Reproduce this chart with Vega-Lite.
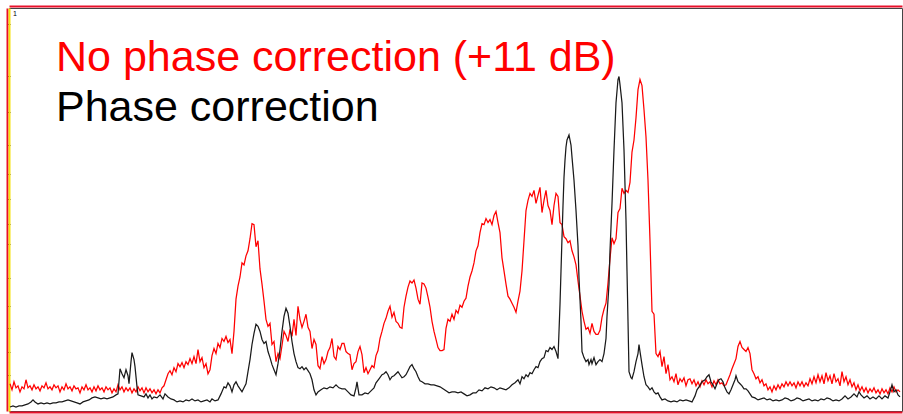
{
  "$schema": "https://vega.github.io/schema/vega-lite/v6.json",
  "width": 903,
  "height": 414,
  "autosize": {"type": "fit", "contains": "padding"},
  "padding": {"left": 6, "top": 6, "right": 0, "bottom": 2},
  "background": "white",
  "config": {
    "view": {"stroke": "#444444", "strokeWidth": 1},
    "axis": {"grid": false, "labels": false, "title": null}
  },
  "datasets": {
    "red": [
      {"x":11,"v":27},{"x":13,"v":21},{"x":15,"v":29},{"x":17,"v":23},{"x":19,"v":25},{"x":21,"v":19},{"x":23,"v":24},{"x":25,"v":22},{"x":27,"v":31},{"x":29,"v":23},
      {"x":31,"v":25},{"x":33,"v":21},{"x":35,"v":26},{"x":37,"v":22},{"x":39,"v":24},{"x":41,"v":20},{"x":43,"v":25},{"x":45,"v":23},{"x":47,"v":28},{"x":49,"v":22},
      {"x":51,"v":24},{"x":53,"v":21},{"x":55,"v":26},{"x":57,"v":23},{"x":59,"v":25},{"x":61,"v":19},{"x":63,"v":24},{"x":65,"v":21},{"x":67,"v":27},{"x":69,"v":22},
      {"x":71,"v":24},{"x":73,"v":20},{"x":75,"v":25},{"x":77,"v":22},{"x":79,"v":23},{"x":81,"v":18},{"x":83,"v":24},{"x":85,"v":21},{"x":87,"v":26},{"x":89,"v":21},
      {"x":91,"v":23},{"x":93,"v":19},{"x":95,"v":24},{"x":97,"v":20},{"x":99,"v":25},{"x":101,"v":21},{"x":103,"v":23},{"x":105,"v":19},{"x":107,"v":24},{"x":109,"v":21},
      {"x":111,"v":23},{"x":113,"v":18},{"x":115,"v":22},{"x":117,"v":19},{"x":119,"v":26},{"x":121,"v":21},{"x":123,"v":24},{"x":125,"v":19},{"x":127,"v":23},{"x":129,"v":20},
      {"x":131,"v":23},{"x":133,"v":18},{"x":135,"v":22},{"x":137,"v":19},{"x":139,"v":24},{"x":141,"v":20},{"x":143,"v":23},{"x":145,"v":18},{"x":147,"v":23},{"x":149,"v":19},
      {"x":151,"v":22},{"x":153,"v":18},{"x":155,"v":21},{"x":157,"v":17},{"x":159,"v":21},{"x":161,"v":18},{"x":163,"v":23},{"x":165,"v":25},{"x":167,"v":31},{"x":169,"v":37},
      {"x":171,"v":40},{"x":173,"v":36},{"x":175,"v":43},{"x":177,"v":39},{"x":179,"v":47},{"x":181,"v":44},{"x":183,"v":48},{"x":185,"v":43},{"x":187,"v":49},{"x":189,"v":46},
      {"x":191,"v":52},{"x":193,"v":47},{"x":195,"v":54},{"x":197,"v":47},{"x":199,"v":61},{"x":201,"v":49},{"x":203,"v":53},{"x":205,"v":43},{"x":207,"v":47},{"x":209,"v":37},
      {"x":211,"v":41},{"x":213,"v":55},{"x":215,"v":62},{"x":217,"v":57},{"x":219,"v":67},{"x":221,"v":63},{"x":223,"v":72},{"x":225,"v":69},{"x":227,"v":74},{"x":229,"v":68},
      {"x":231,"v":71},{"x":233,"v":57},{"x":235,"v":79},{"x":237,"v":111},{"x":239,"v":124},{"x":241,"v":133},{"x":243,"v":147},{"x":245,"v":145},{"x":247,"v":154},{"x":249,"v":159},
      {"x":251,"v":171},{"x":253,"v":186},{"x":255,"v":185},{"x":257,"v":163},{"x":259,"v":169},{"x":261,"v":141},{"x":263,"v":126},{"x":265,"v":109},{"x":267,"v":91},{"x":269,"v":84},
      {"x":271,"v":87},{"x":273,"v":66},{"x":275,"v":69},{"x":277,"v":49},{"x":279,"v":57},{"x":281,"v":52},{"x":283,"v":65},{"x":285,"v":79},{"x":287,"v":75},{"x":289,"v":69},
      {"x":291,"v":81},{"x":293,"v":74},{"x":295,"v":91},{"x":297,"v":75},{"x":299,"v":104},{"x":301,"v":91},{"x":303,"v":83},{"x":305,"v":89},{"x":307,"v":96},{"x":309,"v":83},
      {"x":311,"v":79},{"x":313,"v":62},{"x":315,"v":71},{"x":317,"v":66},{"x":319,"v":45},{"x":321,"v":42},{"x":323,"v":54},{"x":325,"v":47},{"x":327,"v":51},{"x":329,"v":59},
      {"x":331,"v":63},{"x":333,"v":72},{"x":335,"v":54},{"x":337,"v":51},{"x":339,"v":64},{"x":341,"v":61},{"x":343,"v":67},{"x":345,"v":67},{"x":347,"v":59},{"x":349,"v":57},
      {"x":351,"v":56},{"x":353,"v":41},{"x":355,"v":47},{"x":357,"v":49},{"x":359,"v":59},{"x":361,"v":64},{"x":363,"v":56},{"x":365,"v":38},{"x":367,"v":43},{"x":369,"v":37},
      {"x":371,"v":41},{"x":373,"v":45},{"x":375,"v":43},{"x":377,"v":55},{"x":379,"v":60},{"x":381,"v":72},{"x":383,"v":79},{"x":385,"v":87},{"x":387,"v":92},{"x":389,"v":99},
      {"x":391,"v":104},{"x":393,"v":93},{"x":395,"v":98},{"x":397,"v":89},{"x":399,"v":87},{"x":401,"v":83},{"x":403,"v":82},{"x":405,"v":103},{"x":407,"v":114},{"x":409,"v":123},
      {"x":411,"v":129},{"x":413,"v":127},{"x":415,"v":130},{"x":417,"v":122},{"x":419,"v":111},{"x":421,"v":106},{"x":423,"v":127},{"x":425,"v":126},{"x":427,"v":122},{"x":429,"v":113},
      {"x":431,"v":103},{"x":433,"v":89},{"x":435,"v":79},{"x":437,"v":71},{"x":439,"v":63},{"x":441,"v":60},{"x":443,"v":60},{"x":445,"v":61},{"x":447,"v":82},{"x":449,"v":91},
      {"x":451,"v":89},{"x":453,"v":96},{"x":455,"v":91},{"x":457,"v":100},{"x":459,"v":97},{"x":461,"v":105},{"x":463,"v":103},{"x":465,"v":109},{"x":467,"v":112},{"x":469,"v":124},
      {"x":471,"v":133},{"x":473,"v":139},{"x":475,"v":147},{"x":477,"v":159},{"x":479,"v":164},{"x":481,"v":177},{"x":483,"v":186},{"x":485,"v":185},{"x":487,"v":191},{"x":489,"v":187},
      {"x":491,"v":190},{"x":493,"v":185},{"x":495,"v":194},{"x":497,"v":198},{"x":499,"v":187},{"x":501,"v":177},{"x":503,"v":152},{"x":505,"v":139},{"x":507,"v":126},{"x":509,"v":114},
      {"x":511,"v":111},{"x":513,"v":107},{"x":515,"v":103},{"x":517,"v":98},{"x":519,"v":109},{"x":521,"v":119},{"x":523,"v":139},{"x":525,"v":169},{"x":527,"v":199},{"x":529,"v":209},
      {"x":531,"v":216},{"x":533,"v":213},{"x":535,"v":219},{"x":537,"v":206},{"x":539,"v":214},{"x":541,"v":222},{"x":543,"v":197},{"x":545,"v":209},{"x":547,"v":219},{"x":549,"v":204},
      {"x":551,"v":199},{"x":553,"v":185},{"x":555,"v":204},{"x":557,"v":216},{"x":559,"v":213},{"x":561,"v":187},{"x":563,"v":185},{"x":565,"v":173},{"x":567,"v":171},{"x":569,"v":167},
      {"x":571,"v":169},{"x":573,"v":159},{"x":575,"v":153},{"x":577,"v":145},{"x":579,"v":129},{"x":581,"v":114},{"x":583,"v":99},{"x":585,"v":89},{"x":587,"v":81},{"x":589,"v":83},
      {"x":591,"v":77},{"x":593,"v":87},{"x":595,"v":79},{"x":597,"v":76},{"x":599,"v":76},{"x":601,"v":80},{"x":603,"v":93},{"x":605,"v":101},{"x":607,"v":107},{"x":609,"v":127},
      {"x":611,"v":151},{"x":613,"v":172},{"x":615,"v":166},{"x":617,"v":171},{"x":619,"v":197},{"x":621,"v":201},{"x":623,"v":221},{"x":625,"v":216},{"x":627,"v":219},{"x":629,"v":217},
      {"x":631,"v":227},{"x":633,"v":257},{"x":635,"v":269},{"x":637,"v":291},{"x":639,"v":319},{"x":641,"v":329},{"x":643,"v":323},{"x":645,"v":299},{"x":647,"v":272},{"x":649,"v":229},
      {"x":651,"v":169},{"x":653,"v":99},{"x":655,"v":96},{"x":657,"v":57},{"x":659,"v":54},{"x":661,"v":59},{"x":663,"v":44},{"x":665,"v":54},{"x":667,"v":37},{"x":669,"v":46},
      {"x":671,"v":31},{"x":673,"v":34},{"x":675,"v":29},{"x":677,"v":37},{"x":679,"v":26},{"x":681,"v":32},{"x":683,"v":29},{"x":685,"v":33},{"x":687,"v":25},{"x":689,"v":31},
      {"x":691,"v":32},{"x":693,"v":27},{"x":695,"v":31},{"x":697,"v":25},{"x":699,"v":29},{"x":701,"v":24},{"x":703,"v":30},{"x":705,"v":26},{"x":707,"v":31},{"x":709,"v":27},
      {"x":711,"v":29},{"x":713,"v":24},{"x":715,"v":30},{"x":717,"v":26},{"x":719,"v":31},{"x":721,"v":27},{"x":723,"v":28},{"x":725,"v":25},{"x":727,"v":26},{"x":729,"v":31},
      {"x":731,"v":36},{"x":733,"v":42},{"x":735,"v":47},{"x":737,"v":52},{"x":739,"v":64},{"x":741,"v":69},{"x":743,"v":63},{"x":745,"v":61},{"x":747,"v":59},{"x":749,"v":63},
      {"x":751,"v":57},{"x":753,"v":41},{"x":755,"v":37},{"x":757,"v":32},{"x":759,"v":34},{"x":761,"v":28},{"x":763,"v":31},{"x":765,"v":25},{"x":767,"v":27},{"x":769,"v":21},
      {"x":771,"v":24},{"x":773,"v":19},{"x":775,"v":25},{"x":777,"v":21},{"x":779,"v":26},{"x":781,"v":22},{"x":783,"v":27},{"x":785,"v":24},{"x":787,"v":29},{"x":789,"v":25},
      {"x":791,"v":29},{"x":793,"v":25},{"x":795,"v":28},{"x":797,"v":23},{"x":799,"v":29},{"x":801,"v":25},{"x":803,"v":29},{"x":805,"v":24},{"x":807,"v":28},{"x":809,"v":25},
      {"x":811,"v":32},{"x":813,"v":27},{"x":815,"v":34},{"x":817,"v":28},{"x":819,"v":36},{"x":821,"v":29},{"x":823,"v":35},{"x":825,"v":27},{"x":827,"v":38},{"x":829,"v":30},
      {"x":831,"v":35},{"x":833,"v":27},{"x":835,"v":37},{"x":837,"v":29},{"x":839,"v":32},{"x":841,"v":25},{"x":843,"v":39},{"x":845,"v":29},{"x":847,"v":34},{"x":849,"v":26},
      {"x":851,"v":31},{"x":853,"v":24},{"x":855,"v":28},{"x":857,"v":21},{"x":859,"v":26},{"x":861,"v":20},{"x":863,"v":24},{"x":865,"v":19},{"x":867,"v":23},{"x":869,"v":18},
      {"x":871,"v":22},{"x":873,"v":19},{"x":875,"v":23},{"x":877,"v":18},{"x":879,"v":21},{"x":881,"v":17},{"x":883,"v":22},{"x":885,"v":18},{"x":887,"v":21},{"x":889,"v":17},
      {"x":891,"v":23},{"x":893,"v":19},{"x":895,"v":24},{"x":897,"v":19},{"x":899,"v":21},{"x":901,"v":19}
    ],
    "black": [
      {"x":11,"v":4},{"x":14,"v":5},{"x":17,"v":4},{"x":20,"v":5},{"x":23,"v":5},{"x":26,"v":6},{"x":29,"v":7},{"x":32,"v":9},{"x":34,"v":11},{"x":36,"v":9},
      {"x":39,"v":7},{"x":42,"v":8},{"x":45,"v":7},{"x":48,"v":8},{"x":51,"v":7},{"x":54,"v":8},{"x":57,"v":8},{"x":60,"v":9},{"x":63,"v":9},{"x":66,"v":10},
      {"x":69,"v":11},{"x":72,"v":10},{"x":75,"v":9},{"x":78,"v":8},{"x":81,"v":7},{"x":84,"v":9},{"x":87,"v":10},{"x":90,"v":11},{"x":93,"v":13},{"x":96,"v":14},
      {"x":99,"v":13},{"x":102,"v":12},{"x":105,"v":13},{"x":108,"v":12},{"x":111,"v":13},{"x":114,"v":14},{"x":117,"v":16},{"x":119,"v":17},{"x":121,"v":42},{"x":123,"v":37},
      {"x":125,"v":33},{"x":127,"v":41},{"x":129,"v":35},{"x":130,"v":27},{"x":132,"v":49},{"x":133,"v":58},{"x":135,"v":51},{"x":136,"v":44},{"x":138,"v":24},{"x":139,"v":16},
      {"x":142,"v":15},{"x":145,"v":14},{"x":147,"v":17},{"x":149,"v":13},{"x":151,"v":16},{"x":153,"v":12},{"x":155,"v":14},{"x":158,"v":13},{"x":161,"v":16},{"x":164,"v":12},
      {"x":166,"v":17},{"x":169,"v":14},{"x":172,"v":12},{"x":175,"v":11},{"x":178,"v":9},{"x":181,"v":10},{"x":184,"v":9},{"x":187,"v":11},{"x":190,"v":10},{"x":193,"v":12},
      {"x":196,"v":10},{"x":199,"v":11},{"x":202,"v":9},{"x":205,"v":10},{"x":208,"v":11},{"x":211,"v":9},{"x":213,"v":12},{"x":216,"v":10},{"x":219,"v":11},{"x":222,"v":17},
      {"x":225,"v":24},{"x":227,"v":23},{"x":229,"v":28},{"x":231,"v":25},{"x":233,"v":19},{"x":235,"v":26},{"x":237,"v":29},{"x":239,"v":25},{"x":241,"v":22},{"x":243,"v":19},
      {"x":245,"v":23},{"x":247,"v":27},{"x":249,"v":39},{"x":251,"v":51},{"x":253,"v":66},{"x":255,"v":77},{"x":257,"v":86},{"x":259,"v":84},{"x":261,"v":79},{"x":263,"v":71},
      {"x":265,"v":67},{"x":267,"v":69},{"x":269,"v":59},{"x":271,"v":53},{"x":273,"v":46},{"x":275,"v":41},{"x":277,"v":36},{"x":279,"v":47},{"x":281,"v":61},{"x":283,"v":79},
      {"x":285,"v":94},{"x":287,"v":102},{"x":289,"v":97},{"x":291,"v":84},{"x":293,"v":69},{"x":295,"v":57},{"x":297,"v":49},{"x":299,"v":43},{"x":301,"v":42},{"x":303,"v":44},
      {"x":305,"v":41},{"x":307,"v":43},{"x":309,"v":40},{"x":311,"v":37},{"x":313,"v":31},{"x":315,"v":21},{"x":317,"v":16},{"x":319,"v":19},{"x":322,"v":21},{"x":325,"v":23},
      {"x":328,"v":22},{"x":331,"v":24},{"x":334,"v":23},{"x":337,"v":26},{"x":340,"v":23},{"x":343,"v":22},{"x":346,"v":22},{"x":349,"v":19},{"x":352,"v":16},{"x":355,"v":15},
      {"x":357,"v":23},{"x":358,"v":29},{"x":360,"v":16},{"x":363,"v":16},{"x":366,"v":18},{"x":369,"v":17},{"x":372,"v":20},{"x":375,"v":23},{"x":377,"v":28},{"x":380,"v":32},
      {"x":383,"v":36},{"x":385,"v":37},{"x":387,"v":39},{"x":389,"v":36},{"x":391,"v":31},{"x":393,"v":34},{"x":395,"v":35},{"x":397,"v":37},{"x":399,"v":39},{"x":401,"v":36},
      {"x":403,"v":33},{"x":405,"v":34},{"x":407,"v":36},{"x":409,"v":40},{"x":411,"v":44},{"x":413,"v":46},{"x":415,"v":42},{"x":417,"v":39},{"x":419,"v":34},{"x":421,"v":30},
      {"x":423,"v":29},{"x":426,"v":27},{"x":429,"v":27},{"x":432,"v":26},{"x":435,"v":26},{"x":438,"v":25},{"x":441,"v":24},{"x":444,"v":22},{"x":447,"v":20},{"x":450,"v":18},
      {"x":453,"v":19},{"x":456,"v":19},{"x":459,"v":18},{"x":462,"v":19},{"x":465,"v":17},{"x":468,"v":15},{"x":471,"v":16},{"x":474,"v":18},{"x":477,"v":18},{"x":480,"v":21},
      {"x":483,"v":20},{"x":486,"v":23},{"x":489,"v":22},{"x":492,"v":24},{"x":495,"v":23},{"x":498,"v":21},{"x":501,"v":23},{"x":504,"v":22},{"x":507,"v":21},{"x":510,"v":23},
      {"x":513,"v":26},{"x":516,"v":28},{"x":519,"v":31},{"x":521,"v":27},{"x":523,"v":34},{"x":525,"v":32},{"x":527,"v":36},{"x":529,"v":34},{"x":531,"v":38},{"x":533,"v":37},
      {"x":535,"v":41},{"x":537,"v":44},{"x":539,"v":43},{"x":541,"v":49},{"x":543,"v":52},{"x":545,"v":53},{"x":547,"v":60},{"x":549,"v":59},{"x":551,"v":63},{"x":553,"v":61},
      {"x":555,"v":64},{"x":557,"v":59},{"x":559,"v":52},{"x":560,"v":79},{"x":561,"v":106},{"x":562,"v":139},{"x":563,"v":172},{"x":564,"v":204},{"x":565,"v":232},{"x":566,"v":249},
      {"x":567,"v":262},{"x":568,"v":269},{"x":570,"v":274},{"x":572,"v":264},{"x":573,"v":252},{"x":575,"v":229},{"x":577,"v":199},{"x":579,"v":164},{"x":580,"v":132},{"x":582,"v":89},
      {"x":583,"v":59},{"x":585,"v":53},{"x":587,"v":49},{"x":589,"v":51},{"x":590,"v":46},{"x":592,"v":51},{"x":593,"v":47},{"x":595,"v":53},{"x":597,"v":46},{"x":599,"v":49},
      {"x":601,"v":51},{"x":603,"v":49},{"x":605,"v":57},{"x":607,"v":72},{"x":608,"v":94},{"x":610,"v":126},{"x":611,"v":159},{"x":613,"v":206},{"x":615,"v":259},{"x":617,"v":306},
      {"x":619,"v":329},{"x":620,"v":332},{"x":621,"v":324},{"x":623,"v":306},{"x":625,"v":259},{"x":627,"v":189},{"x":628,"v":139},{"x":629,"v":89},{"x":630,"v":39},{"x":632,"v":33},
      {"x":633,"v":32},{"x":635,"v":39},{"x":637,"v":49},{"x":639,"v":57},{"x":640,"v":66},{"x":641,"v":59},{"x":643,"v":46},{"x":645,"v":34},{"x":647,"v":26},{"x":649,"v":24},
      {"x":651,"v":21},{"x":653,"v":23},{"x":655,"v":19},{"x":657,"v":17},{"x":659,"v":18},{"x":661,"v":14},{"x":663,"v":11},{"x":666,"v":12},{"x":669,"v":10},{"x":672,"v":9},
      {"x":675,"v":10},{"x":678,"v":9},{"x":681,"v":11},{"x":684,"v":10},{"x":687,"v":11},{"x":690,"v":10},{"x":693,"v":9},{"x":696,"v":15},{"x":698,"v":21},{"x":700,"v":24},
      {"x":703,"v":29},{"x":706,"v":31},{"x":708,"v":34},{"x":710,"v":36},{"x":712,"v":29},{"x":714,"v":26},{"x":716,"v":22},{"x":718,"v":27},{"x":720,"v":31},{"x":722,"v":32},
      {"x":724,"v":29},{"x":726,"v":23},{"x":728,"v":19},{"x":730,"v":17},{"x":732,"v":21},{"x":734,"v":26},{"x":736,"v":31},{"x":737,"v":35},{"x":739,"v":29},{"x":741,"v":27},
      {"x":743,"v":25},{"x":745,"v":22},{"x":747,"v":22},{"x":749,"v":20},{"x":751,"v":17},{"x":753,"v":14},{"x":756,"v":13},{"x":759,"v":11},{"x":762,"v":12},{"x":765,"v":13},
      {"x":768,"v":11},{"x":771,"v":12},{"x":774,"v":10},{"x":777,"v":11},{"x":780,"v":10},{"x":783,"v":11},{"x":786,"v":13},{"x":789,"v":12},{"x":792,"v":10},{"x":795,"v":11},
      {"x":798,"v":13},{"x":801,"v":12},{"x":804,"v":10},{"x":807,"v":11},{"x":810,"v":12},{"x":813,"v":10},{"x":816,"v":11},{"x":819,"v":10},{"x":822,"v":12},{"x":825,"v":11},
      {"x":828,"v":13},{"x":831,"v":12},{"x":834,"v":10},{"x":837,"v":11},{"x":840,"v":10},{"x":843,"v":12},{"x":846,"v":15},{"x":849,"v":12},{"x":852,"v":14},{"x":855,"v":17},
      {"x":858,"v":14},{"x":860,"v":19},{"x":862,"v":16},{"x":865,"v":13},{"x":868,"v":15},{"x":871,"v":12},{"x":874,"v":14},{"x":877,"v":12},{"x":880,"v":15},{"x":883,"v":12},
      {"x":886,"v":15},{"x":889,"v":13},{"x":891,"v":19},{"x":893,"v":26},{"x":895,"v":19},{"x":897,"v":21},{"x":899,"v":16},{"x":901,"v":14}
    ]
  },
  "layer": [
    {
      "data": {"name": "red"},
      "mark": {"type": "line", "color": "#ff0000", "strokeWidth": 1.25},
      "encoding": {
        "x": {"field": "x", "type": "quantitative", "scale": {"domain": [10, 903], "nice": false, "zero": false},
              "axis": {"orient": "bottom", "domainColor": "#e8102a", "domainWidth": 2, "offset": 1, "ticks": false, "labels": false, "title": null}},
        "y": {"field": "v", "type": "quantitative", "scale": {"domain": [0, 400], "nice": false, "zero": false},
              "axis": {"orient": "left", "domainColor": "#e8102a", "domainWidth": 2, "offset": 2, "values": [36, 59, 82, 104, 132, 166, 186, 210, 235, 264, 297, 333, 384], "tickSize": -3, "tickColor": "#222222", "tickWidth": 1, "labels": false, "title": null}}
      }
    },
    {
      "data": {"name": "black"},
      "mark": {"type": "line", "color": "#1a1a1a", "strokeWidth": 1.25},
      "encoding": {
        "x": {"field": "x", "type": "quantitative",
              "axis": {"orient": "top", "domainColor": "#e8102a", "domainWidth": 2, "offset": 2, "ticks": false, "labels": false, "title": null}},
        "y": {"field": "v", "type": "quantitative",
              "axis": {"orient": "left", "domainColor": "#f5e20a", "domainWidth": 2, "offset": 0, "ticks": false, "labels": false, "title": null}}
      }
    },
    {
      "data": {"values": [{"x": 57, "v": 337, "label": "No phase correction (+11 dB)"}]},
      "mark": {"type": "text", "align": "left", "baseline": "alphabetic", "font": "Liberation Sans", "fontSize": 43, "color": "#ff0000"},
      "encoding": {
        "x": {"field": "x", "type": "quantitative", "axis": null},
        "y": {"field": "v", "type": "quantitative", "axis": null},
        "text": {"field": "label"}
      }
    },
    {
      "data": {"values": [{"x": 57, "v": 288, "label": "Phase correction"}]},
      "mark": {"type": "text", "align": "left", "baseline": "alphabetic", "font": "Liberation Sans", "fontSize": 43, "color": "#000000"},
      "encoding": {
        "x": {"field": "x", "type": "quantitative", "axis": null},
        "y": {"field": "v", "type": "quantitative", "axis": null},
        "text": {"field": "label"}
      }
    },
    {
      "data": {"values": [{"x": 14, "v": 392, "label": "1"}]},
      "mark": {"type": "text", "align": "left", "baseline": "alphabetic", "font": "Liberation Sans", "fontSize": 7, "color": "#000000"},
      "encoding": {
        "x": {"field": "x", "type": "quantitative", "axis": null},
        "y": {"field": "v", "type": "quantitative", "axis": null},
        "text": {"field": "label"}
      }
    }
  ],
  "resolve": {"axis": {"x": "independent", "y": "independent"}}
}
